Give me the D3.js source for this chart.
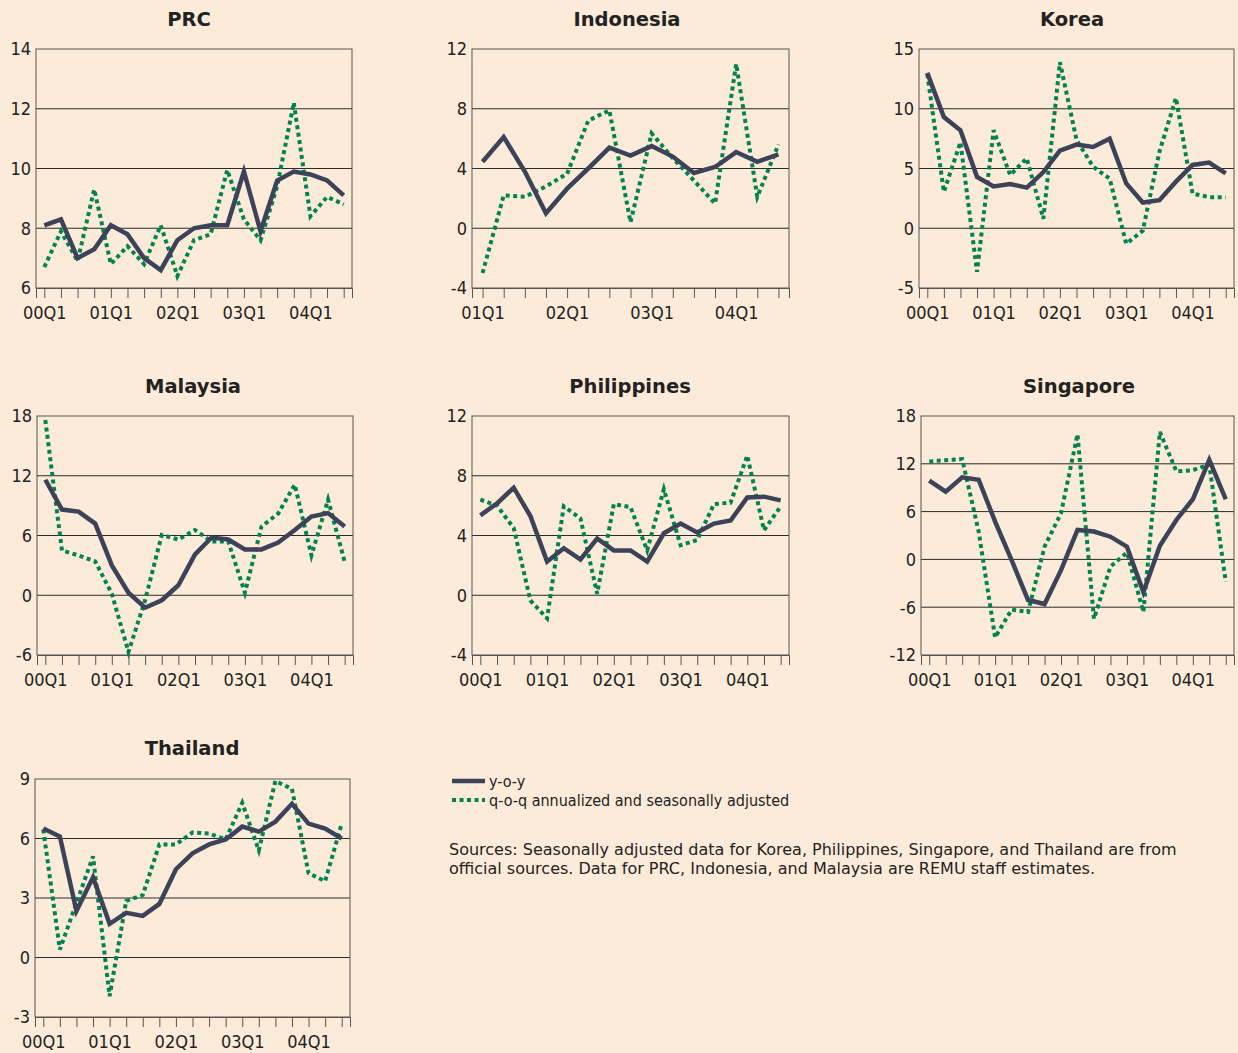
<!DOCTYPE html>
<html>
<head>
<meta charset="utf-8">
<script src="https://cdn.jsdelivr.net/npm/d3@7"></script>
<style>
  body { margin: 0; background: #fdebd9; }
  svg { display: block; }
  text { font-family: "DejaVu Sans Condensed", "DejaVu Sans", sans-serif; fill: #222; }
</style>
</head>
<body>
<svg width="1238" height="1053"></svg>
<script>
// Donnees
let quarters = ["00Q1","00Q2","00Q3","00Q4","01Q1","01Q2","01Q3","01Q4","02Q1","02Q2","02Q3","02Q4","03Q1","03Q2","03Q3","03Q4","04Q1","04Q2","04Q3"];
let quartersIdn = quarters.slice(4);
let tickLabels = ["00Q1","01Q1","02Q1","03Q1","04Q1"];

let prcYoy = [8.1,8.3,7.0,7.3,8.1,7.8,7.0,6.6,7.6,8.0,8.1,8.1,9.9,7.9,9.6,9.9,9.8,9.6,9.1];
let prcQoq = [6.7,7.9,6.9,9.3,6.8,7.4,6.8,8.1,6.4,7.6,7.8,9.95,8.3,7.6,9.4,12.2,8.4,9.05,8.8];

let idnYoy = [4.45,6.1,3.8,1.0,2.65,4.0,5.4,4.87,5.5,4.8,3.7,4.1,5.1,4.45,4.95];
let idnQoq = [-3.0,2.2,2.1,2.8,3.65,7.2,7.9,0.4,6.35,4.7,3.2,1.65,11.0,2.1,5.6];

let korYoy = [13.0,9.3,8.2,4.3,3.5,3.7,3.4,4.7,6.5,7.0,6.8,7.5,3.75,2.15,2.35,3.9,5.3,5.5,4.6];
let korQoq = [12.9,3.05,7.2,-3.65,8.2,4.45,5.85,0.8,13.9,7.4,5.15,4.15,-1.3,-0.2,6.4,10.9,2.9,2.6,2.6];

let mysYoy = [11.6,8.6,8.4,7.2,3.0,0.25,-1.25,-0.5,1.0,4.1,5.8,5.6,4.6,4.6,5.3,6.55,7.9,8.25,6.9];
let mysQoq = [17.6,4.5,4.0,3.4,0.15,-5.7,-0.5,6.05,5.6,6.55,5.4,5.4,0.25,6.9,8.2,11.1,4.0,9.6,3.35];

let phlYoy = [5.35,6.15,7.2,5.3,2.25,3.15,2.4,3.8,3.0,3.0,2.25,4.15,4.8,4.2,4.8,5.0,6.55,6.6,6.35];
let phlQoq = [6.4,6.0,4.5,-0.35,-1.55,5.95,5.15,0.1,6.1,5.9,3.0,7.1,3.35,3.7,6.1,6.2,9.35,4.35,5.95];

let sgpYoy = [9.9,8.5,10.3,10.0,4.75,-0.1,-5.1,-5.6,-1.35,3.7,3.5,2.85,1.6,-4.1,1.7,4.95,7.55,12.5,7.55];
let sgpQoq = [12.3,12.45,12.6,3.5,-9.8,-6.3,-6.6,1.6,5.8,15.7,-7.45,-0.9,0.85,-6.6,16.0,11.05,11.2,11.9,-2.8];

let thaYoy = [6.5,6.1,2.35,4.05,1.7,2.25,2.1,2.7,4.45,5.25,5.7,5.95,6.6,6.35,6.85,7.75,6.75,6.5,6.0];
let thaQoq = [6.45,0.4,2.75,5.1,-1.95,2.85,3.15,5.7,5.7,6.3,6.25,5.95,7.8,5.4,8.9,8.5,4.25,3.85,6.75];

let prcTicks = [6,8,10,12,14];
let idnTicks = [-4,0,4,8,12];
let korTicks = [-5,0,5,10,15];
let mysTicks = [-6,0,6,12,18];
let phlTicks = [-4,0,4,8,12];
let sgpTicks = [-12,-6,0,6,12,18];
let thaTicks = [-3,0,3,6,9];

// Mise en page des panneaux
let panneaux = [
  {titre: "PRC", q: quarters, yoy: prcYoy, qoq: prcQoq, ticks: prcTicks, x0: 36, x1: 352, y0: 49, y1: 288, tx: 189, ty: 19},
  {titre: "Indonesia", q: quartersIdn, yoy: idnYoy, qoq: idnQoq, ticks: idnTicks, x0: 472, x1: 789, y0: 49, y1: 288, tx: 627, ty: 19},
  {titre: "Korea", q: quarters, yoy: korYoy, qoq: korQoq, ticks: korTicks, x0: 919, x1: 1234, y0: 49, y1: 288, tx: 1072, ty: 19},
  {titre: "Malaysia", q: quarters, yoy: mysYoy, qoq: mysQoq, ticks: mysTicks, x0: 37, x1: 353, y0: 416, y1: 655, tx: 193, ty: 386},
  {titre: "Philippines", q: quarters, yoy: phlYoy, qoq: phlQoq, ticks: phlTicks, x0: 472, x1: 789, y0: 416, y1: 655, tx: 630, ty: 386},
  {titre: "Singapore", q: quarters, yoy: sgpYoy, qoq: sgpQoq, ticks: sgpTicks, x0: 921, x1: 1234, y0: 416, y1: 655, tx: 1079, ty: 386},
  {titre: "Thailand", q: quarters, yoy: thaYoy, qoq: thaQoq, ticks: thaTicks, x0: 35, x1: 350, y0: 779, y1: 1017, tx: 192, ty: 748}
];

let svg = d3.select("svg");
let couleurYoy = "#3c4358";
let couleurQoq = "#00834f";

panneaux.forEach(function (p) {
  let g = svg.append("g");
  let x = d3.scalePoint().domain(p.q).range([p.x0, p.x1]).padding(0.5);
  let y = d3.scaleLinear().domain(d3.extent(p.ticks)).range([p.y1, p.y0]);

  // titre
  g.append("text")
    .attr("x", p.tx).attr("y", p.ty)
    .attr("dy", "0.36em")
    .attr("text-anchor", "middle")
    .style("font-family", "'DejaVu Sans', sans-serif")
    .style("font-weight", "bold")
    .style("font-size", "19.5px")
    .text(p.titre);

  // lignes de grille
  g.selectAll("line.grille")
    .data(p.ticks.slice(1, -1))
    .enter().append("line")
    .attr("class", "grille")
    .attr("x1", p.x0).attr("x2", p.x1)
    .attr("y1", d => y(d)).attr("y2", d => y(d))
    .attr("stroke", "#2a2a2a").attr("stroke-width", 1);

  // cadre
  g.append("rect")
    .attr("x", p.x0).attr("y", p.y0)
    .attr("width", p.x1 - p.x0).attr("height", p.y1 - p.y0)
    .attr("fill", "none").attr("stroke", "#555").attr("stroke-width", 1);

  // axe y (etiquettes seulement)
  g.selectAll("text.ylab")
    .data(p.ticks)
    .enter().append("text")
    .attr("class", "ylab")
    .attr("x", p.x0 - 5).attr("y", d => y(d))
    .attr("dy", "0.36em")
    .attr("text-anchor", "end")
    .style("font-size", "18px")
    .text(d => d);

  // axe x
  let axeX = d3.axisBottom(x)
    .tickSize(10)
    .tickFormat(d => tickLabels.includes(d) ? d : "");
  let ax = g.append("g")
    .attr("transform", "translate(0," + p.y1 + ")")
    .call(axeX);
  ax.select(".domain").attr("stroke", "#555");
  ax.selectAll(".tick line").attr("stroke", "#555");
  ax.selectAll(".tick text")
    .attr("y", 18)
    .attr("dy", "0.71em")
    .style("font-family", "'DejaVu Sans Condensed', 'DejaVu Sans', sans-serif")
    .style("font-size", "18px")
    .attr("fill", "#222");

  let ligne = d3.line().x((d, i) => x(p.q[i])).y(d => y(d));

  g.append("path")
    .datum(p.qoq)
    .attr("d", ligne)
    .attr("fill", "none")
    .attr("stroke", couleurQoq)
    .attr("stroke-width", 4)
    .attr("stroke-dasharray", "4 3.5");

  g.append("path")
    .datum(p.yoy)
    .attr("d", ligne)
    .attr("fill", "none")
    .attr("stroke", couleurYoy)
    .attr("stroke-width", 4.5)
    .attr("stroke-linejoin", "miter");
});

// legende
let legende = [
  {label: "y-o-y", couleur: couleurYoy, tirets: null, w: 4.5},
  {label: "q-o-q annualized and seasonally adjusted", couleur: couleurQoq, tirets: "4 3.5", w: 4}
];
legende.forEach(function (d, i) {
  let yy = 781 + i * 19;
  svg.append("line")
    .attr("x1", 452).attr("x2", 485)
    .attr("y1", yy).attr("y2", yy)
    .attr("stroke", d.couleur).attr("stroke-width", d.w)
    .attr("stroke-dasharray", d.tirets);
  svg.append("text")
    .attr("x", 489).attr("y", yy)
    .attr("dy", "0.36em")
    .style("font-size", "16px")
    .text(d.label);
});

// sources
let sources = [
  "Sources: Seasonally adjusted data for Korea, Philippines, Singapore, and Thailand are from",
  "official sources. Data for PRC, Indonesia, and Malaysia are REMU staff estimates."
];
svg.selectAll("text.source")
  .data(sources)
  .enter().append("text")
  .attr("class", "source")
  .attr("x", 449).attr("y", (d, i) => 849 + i * 19)
  .attr("dy", "0.36em")
  .style("font-family", "'DejaVu Sans', sans-serif")
  .style("font-size", "16px")
  .text(d => d);
</script>
</body>
</html>
